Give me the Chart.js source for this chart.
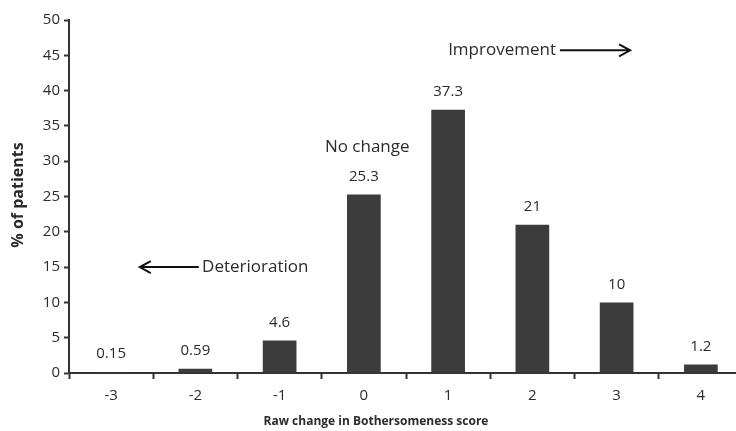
<!DOCTYPE html>
<html>
<head>
<meta charset="utf-8">
<script src="https://cdn.jsdelivr.net/npm/chart.js@4.4.0/dist/chart.umd.min.js"></script>
<style>
  html, body { margin: 0; padding: 0; background: #fff; overflow: hidden; }
  #wrap { width: 750px; height: 431px; }
</style>
</head>
<body>
<div id="wrap"><canvas id="chart" width="750" height="431"></canvas></div>
<script>
const categories = ["-3", "-2", "-1", "0", "1", "2", "3", "4"];
const percentValues = [0.15, 0.59, 4.6, 25.3, 37.3, 21, 10, 1.2];
const valueLabels = ["0.15", "0.59", "4.6", "25.3", "37.3", "21", "10", "1.2"];

const fontFam = "'Open Sans', sans-serif";
const textCol = "#2b2b2b";

// value labels above bars
const barLabels = {
  id: "barLabels",
  afterDatasetsDraw(chart) {
    const ctx = chart.ctx;
    const meta = chart.getDatasetMeta(0);
    ctx.save();
    ctx.fillStyle = textCol;
    ctx.font = "15px " + fontFam;
    ctx.textAlign = "center";
    ctx.textBaseline = "middle";
    meta.data.forEach((bar, i) => {
      ctx.fillText(valueLabels[i], bar.x, bar.y - 18);
    });
    ctx.restore();
  }
};

function arrow(ctx, x1, x2, y) {
  ctx.beginPath();
  ctx.moveTo(x1, y);
  ctx.lineTo(x2, y);
  ctx.stroke();
  const dir = x2 > x1 ? 1 : -1;
  ctx.beginPath();
  ctx.moveTo(x2 - dir * 11, y - 6);
  ctx.lineTo(x2, y);
  ctx.lineTo(x2 - dir * 11, y + 6);
  ctx.stroke();
}

// annotations + axis titles
const notes = {
  id: "notes",
  afterDraw(chart) {
    const ctx = chart.ctx;
    const xs = chart.scales.x, ys = chart.scales.y;
    ctx.save();
    ctx.fillStyle = textCol;
    ctx.strokeStyle = "#111";
    ctx.lineWidth = 2;
    ctx.font = "17px " + fontFam;
    ctx.textBaseline = "middle";

    ctx.textAlign = "center";
    ctx.fillText("No change", xs.getPixelForValue(3.04), ys.getPixelForValue(32));

    ctx.textAlign = "left";
    const yi = ys.getPixelForValue(45.7);
    const xi = xs.getPixelForValue(4.0);
    ctx.fillText("Improvement", xi, yi);
    const wi = ctx.measureText("Improvement").width;
    arrow(ctx, xi + wi + 4, xs.getPixelForValue(6.16), yi);

    const yd = ys.getPixelForValue(15);
    ctx.fillText("Deterioration", xs.getPixelForValue(1.08), yd);
    arrow(ctx, xs.getPixelForValue(1.04), xs.getPixelForValue(0.34), yd);

    ctx.font = "bold 12px " + fontFam;
    ctx.textAlign = "center";
    ctx.fillText("Raw change in Bothersomeness score", 376, 422);
    ctx.font = "bold 16px " + fontFam;
    ctx.translate(18, 195);
    ctx.rotate(-Math.PI / 2);
    ctx.fillText("% of patients", 0, 0);
    ctx.restore();
  }
};

new Chart(document.getElementById("chart"), {
  type: "bar",
  plugins: [barLabels, notes],
  data: {
    labels: categories,
    datasets: [{
      data: percentValues,
      backgroundColor: "#3c3c3c",
      barPercentage: 0.4,
      categoryPercentage: 1.0
    }]
  },
  options: {
    responsive: false,
    animation: false,
    layout: { padding: { top: 20, right: 7, left: 0, bottom: 0 } },
    plugins: { legend: { display: false }, tooltip: { enabled: false } },
    scales: {
      x: {
        offset: true,
        grid: { offset: true, drawOnChartArea: false, drawTicks: true, tickLength: 6, color: "#333", tickWidth: 2 },
        border: { color: "#333", width: 2 },
        ticks: { color: textCol, font: { size: 15, family: fontFam }, padding: 8 },
        afterFit(s) { s.height = 58; }
      },
      y: {
        min: 0, max: 50,
        grid: { drawOnChartArea: false, tickLength: 5, color: "#333", tickWidth: 2 },
        border: { color: "#333", width: 2 },
        ticks: { stepSize: 5, color: textCol, font: { size: 15, family: fontFam }, padding: 4 },
        afterFit(s) { s.width = 69; }
      }
    }
  }
});
</script>
</body>
</html>
